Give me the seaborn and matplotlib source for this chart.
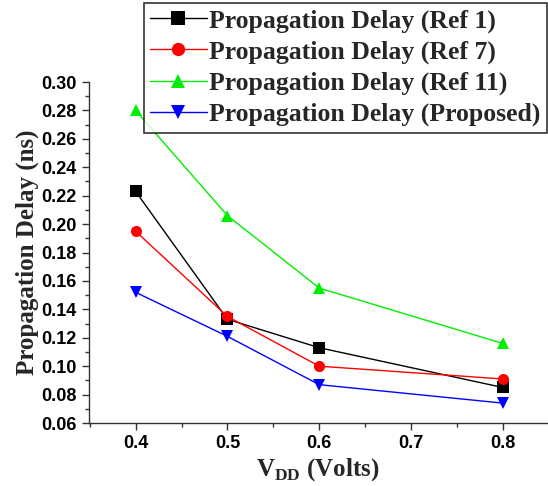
import matplotlib
matplotlib.use("Agg")
import matplotlib.pyplot as plt
import seaborn as sns
import pandas as pd
from matplotlib.ticker import MultipleLocator, FormatStrFormatter

vdd = [0.4, 0.5, 0.6, 0.8]
ref1 = [0.223, 0.133, 0.113, 0.085]
ref7 = [0.195, 0.135, 0.100, 0.091]
ref11 = [0.280, 0.206, 0.155, 0.116]
proposed = [0.152, 0.121, 0.087, 0.074]
series_names = ["Propagation Delay (Ref 1)", "Propagation Delay (Ref 7)",
                "Propagation Delay (Ref 11)", "Propagation Delay (Proposed)"]

sns.set_style("ticks")
plt.rcParams["mathtext.fontset"] = "custom"
plt.rcParams["mathtext.rm"] = "Liberation Serif:bold"
plt.rcParams["mathtext.bf"] = "Liberation Serif:bold"

rows = []
for name, vals in zip(series_names, [ref1, ref7, ref11, proposed]):
    for x, y in zip(vdd, vals):
        rows.append({"VDD": x, "Delay": y, "Series": name})
df = pd.DataFrame(rows)

fig = plt.figure(figsize=(5.48, 4.86), dpi=100)
ax = fig.add_axes([0.162, 0.1296, 0.836, 0.7016])

palette = {series_names[0]: "#000000", series_names[1]: "#ff0000",
           series_names[2]: "#00ee00", series_names[3]: "#0000ff"}
markers = {series_names[0]: "s", series_names[1]: "o",
           series_names[2]: "^", series_names[3]: "v"}

sns.lineplot(data=df, x="VDD", y="Delay", hue="Series", style="Series",
             palette=palette, markers=markers, dashes=False, markersize=8,
             linewidth=1, markeredgewidth=0, ax=ax, legend=True)

ax.set_xlim(0.349, 0.848)
ax.set_ylim(0.06, 0.30)
ax.xaxis.set_major_locator(MultipleLocator(0.1))
ax.xaxis.set_minor_locator(MultipleLocator(0.05))
ax.yaxis.set_major_locator(MultipleLocator(0.02))
ax.yaxis.set_minor_locator(MultipleLocator(0.01))
ax.yaxis.set_major_formatter(FormatStrFormatter("%.2f"))
ax.xaxis.set_major_formatter(FormatStrFormatter("%.1f"))
ax.tick_params(which="major", direction="out", length=5, width=1, colors="#333333", labelcolor="black")
ax.tick_params(which="minor", direction="out", length=3, width=1, colors="#333333")
for lbl in ax.get_xticklabels() + ax.get_yticklabels():
    lbl.set_fontfamily("Liberation Sans")
    lbl.set_fontweight("bold")
    lbl.set_fontsize(13)
for s in ["top", "right"]:
    ax.spines[s].set_visible(False)
for s in ["left", "bottom"]:
    ax.spines[s].set_color("#333333")
    ax.spines[s].set_linewidth(1)

ax.set_xlabel(r"V$_{\mathrm{DD}}$ (Volts)", fontfamily="Liberation Serif",
              fontweight="bold", fontsize=18, labelpad=3)
ax.set_ylabel("Propagation Delay (ns)", fontfamily="Liberation Serif",
              fontweight="bold", fontsize=18, labelpad=2)

handles, labels = ax.get_legend_handles_labels()
ax.get_legend().remove()
leg = fig.legend(handles, labels, loc="upper right", bbox_to_anchor=(0.998, 0.994),
                 prop={"family": "Liberation Serif", "weight": "bold", "size": 18.5},
                 frameon=True, fancybox=False, edgecolor="black",
                 handlelength=2.2, handletextpad=0.1, borderpad=0.25,
                 labelspacing=0.3, borderaxespad=0, markerscale=1.2)
leg.get_frame().set_linewidth(1.2)

fig.savefig("out.png", dpi=100)
